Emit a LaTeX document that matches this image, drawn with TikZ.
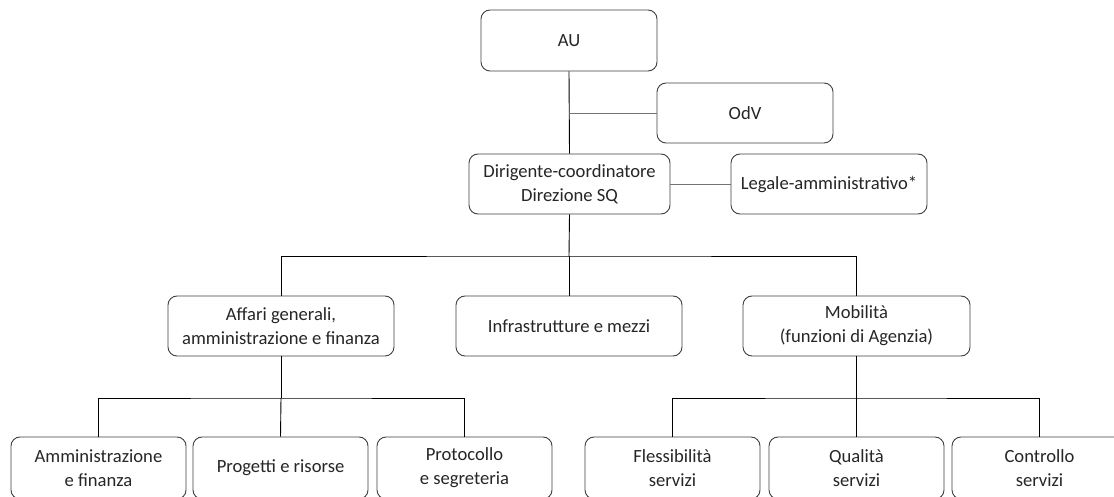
\documentclass[tikz,border=0pt]{standalone}
\usepackage{fontspec}
\setmainfont{Carlito}
\begin{document}
\begin{tikzpicture}[x=1pt,y=-1pt,
  box/.style={draw=black!75, line width=0.9pt, rounded corners=9pt, align=center,
    text=black!85, font=\fontsize{18.6}{24}\selectfont, inner sep=0pt},
  conn/.style={draw=black, line width=0.9pt},
  sconn/.style={draw=black!55, line width=0.9pt}]
\useasboundingbox (0,0) rectangle (1114,497);
\clip (0,0) rectangle (1114,497);
\fill[white] (0,0) rectangle (1114,497);
% level 0
\node[box, minimum width=176pt, minimum height=61pt] (au) at (569,40.5) {AU};
\node[box, minimum width=176pt, minimum height=60pt] (odv) at (745,113) {OdV};
\node[box, minimum width=201pt, minimum height=60pt] (dir) at (569.5,184) {Dirigente-coordinatore\\Direzione SQ};
\node[box, minimum width=196pt, minimum height=60pt] (leg) at (829,184) {Legale-amministrativo*};
% level 1
\node[box, minimum width=226pt, minimum height=60pt] (aff) at (281,326) {Affari generali,\\amministrazione e finanza};
\node[box, minimum width=226pt, minimum height=60pt] (inf) at (569,326) {Infrastrutture e mezzi};
\node[box, minimum width=227pt, minimum height=60pt] (mob) at (856.5,326) {Mobilità\\(funzioni di Agenzia)};
% level 2
\node[box, minimum width=175pt, minimum height=62pt] (amm) at (98.5,468) {Amministrazione\\e finanza};
\node[box, minimum width=175pt, minimum height=62pt] (pro) at (280.5,468) {Progetti e risorse};
\node[box, minimum width=175pt, minimum height=62pt] (prt) at (464.5,468) {Protocollo\\e segreteria};
\node[box, minimum width=175pt, minimum height=62pt] (fle) at (672.5,468) {Flessibilità\\servizi};
\node[box, minimum width=175pt, minimum height=62pt] (qua) at (856.5,468) {Qualità\\servizi};
\node[box, minimum width=175pt, minimum height=62pt] (con) at (1039.5,468) {Controllo\\servizi};
% connectors
\coordinate (j1) at (569,256);
\coordinate (j2) at (281,398);
\coordinate (j3) at (856.5,398);
\draw[conn] (au.south) -- (dir.north);
\draw[sconn] (au.south |- odv.west) -- (odv.west);
\draw[sconn] (dir.east) -- (leg.west);
\draw[conn] (dir.south) -- (j1);
\draw[conn] (aff.north) |- (j1) -| (mob.north);
\draw[conn] (j1) -- (inf.north);
\draw[conn] (aff.south) -- (j2);
\draw[conn] (amm.north) |- (j2) -| (prt.north);
\draw[conn] (j2) -- (pro.north);
\draw[conn] (mob.south) -- (j3);
\draw[conn] (fle.north) |- (j3) -| (con.north);
\draw[conn] (j3) -- (qua.north);
\end{tikzpicture}
\end{document}
